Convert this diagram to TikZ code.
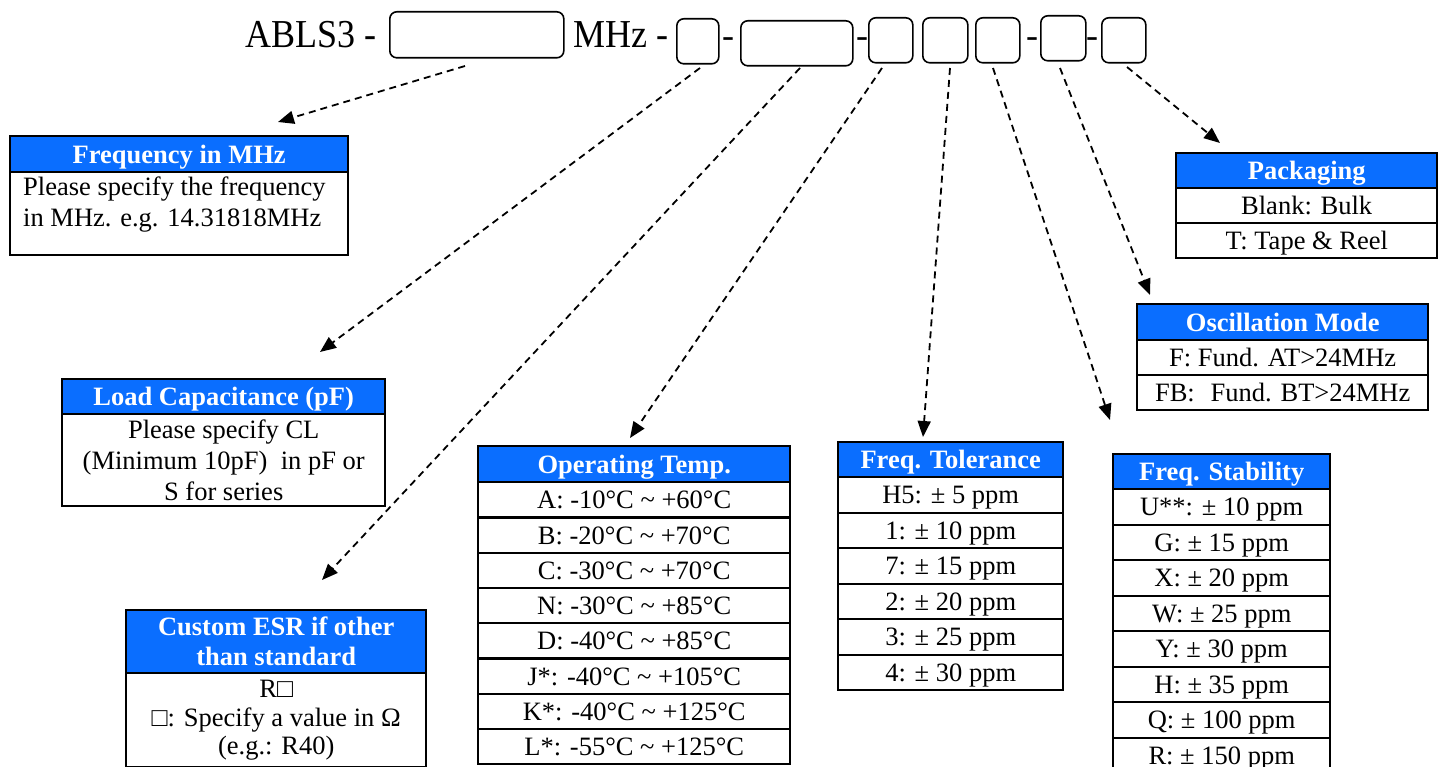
\documentclass[tikz,border=0pt]{standalone}
\usepackage{fontspec}
\setmainfont{Liberation Serif}
\usetikzlibrary{arrows.meta}
\definecolor{hblue}{RGB}{10,110,255}
\newcommand{\tld}{\textasciitilde}
\newcommand{\tallt}[1]{\scalebox{1}[1.1]{#1}}
\tikzset{
  bodyfont/.style={font=\fontsize{26.5}{31}\selectfont},
  hdr/.style={draw, line width=2.4pt, fill=hblue, text=white, font=\fontsize{26.5}{30}\selectfont\bfseries, anchor=north west, inner sep=0pt, align=center, text height=20pt, text depth=2pt},
  mhdr/.style={draw, line width=2.4pt, fill=hblue, text=white, font=\fontsize{26.5}{30}\selectfont\bfseries, anchor=north west, inner sep=0pt, align=center},
  cell/.style={draw, line width=2.4pt, anchor=north west, inner sep=0pt, align=center, text height=20pt, text depth=2pt, bodyfont},
  mcell/.style={draw, line width=2.4pt, anchor=north west, inner sep=0pt, align=center, bodyfont},
  tbox/.style={draw, line width=1.6pt, rounded corners=7pt, inner sep=0pt},
  title/.style={font=\fontsize{36}{40}\selectfont, inner sep=0pt, anchor=base west},
  conn/.style={dashed, dash pattern=on 7pt off 5pt, line width=1.8pt, -{Triangle[length=16pt,width=13pt]}}
}
\begin{document}
\begin{tikzpicture}[x=1pt,y=-1pt]
\useasboundingbox (0,0) rectangle (1438,767);
\fill[white] (0,0) rectangle (1438,767);

% ---- part number line ----
\node[title] (t1) at (245,48) {\tallt{ABLS3 -}};
\node[tbox, minimum width=174, minimum height=46, anchor=north west] (b1) at (389,11) {};
\node[title] (t2) at (573,48) {\tallt{MHz -}};
\node[tbox, minimum width=42, minimum height=45, anchor=north west] (b2) at (676,18) {};
\node[title, anchor=base] (d1) at (728,48) {-};
\node[tbox, minimum width=112, minimum height=45, anchor=north west] (b3) at (740,20) {};
\node[title, anchor=base] (d2) at (862,48) {-};
\node[tbox, minimum width=44, minimum height=45, anchor=north west] (b4) at (868,17) {};
\node[tbox, minimum width=45, minimum height=45, anchor=north west] (b5) at (922,17) {};
\node[tbox, minimum width=44, minimum height=45, anchor=north west] (b6) at (975,17) {};
\node[title, anchor=base] (d3) at (1032,48) {-};
\node[tbox, minimum width=45, minimum height=45, anchor=north west] (b7) at (1040,15) {};
\node[title, anchor=base] (d4) at (1092,48) {-};
\node[tbox, minimum width=44, minimum height=45, anchor=north west] (b8) at (1101,17) {};

% ---- Frequency in MHz ----
\node[hdr, minimum width=338, minimum height=36] (fq) at (9,135) {Frequency in MHz};
\node[mcell, minimum width=338, minimum height=83] (fqb) at (9,171) {};
\node[bodyfont, anchor=north west, align=left, inner sep=0pt, font=\fontsize{26.5}{31}\selectfont] (fqt) at (23,177) {Please specify the frequency\\in MHz. e.g. 14.31818MHz};

% ---- Load Capacitance ----
\node[hdr, minimum width=323, minimum height=35] (lc) at (61,378) {Load Capacitance (pF)};
\node[mcell, minimum width=323, minimum height=92] (lcb) at (61,413) {Please specify CL\\(Minimum 10pF)\ \ in pF or\\S for series};

% ---- Custom ESR ----
\node[mhdr, minimum width=300, minimum height=63] (esr) at (125,609) {Custom ESR if other\\than standard};
\node[mcell, minimum width=300, minimum height=94, font=\fontsize{26.5}{28.5}\selectfont] (esrb) at (125,672) {R□\\□: Specify a value in Ω\\(e.g.: R40)};

% ---- Operating Temp ----
\node[hdr, minimum width=312, minimum height=36] (ot) at (477,445) {Operating Temp.};
\foreach \t [count=\i] in {A: -10°C \tld{} +60°C, B: -20°C \tld{} +70°C, C: -30°C \tld{} +70°C, N: -30°C \tld{} +85°C, D: -40°C \tld{} +85°C, J*: -40°C \tld{} +105°C, K*: -40°C \tld{} +125°C, L*: -55°C \tld{} +125°C}
  \node[cell, minimum width=312, minimum height=35.25] (ot\i) at (477,{481+(\i-1)*35.25}) {\t};

% ---- Freq. Tolerance ----
\node[hdr, minimum width=225, minimum height=35] (ft) at (837,441) {Freq. Tolerance};
\foreach \t [count=\i] in {H5: ± 5 ppm, 1: ± 10 ppm, 7: ± 15 ppm, 2: ± 20 ppm, 3: ± 25 ppm, 4: ± 30 ppm}
  \node[cell, minimum width=225, minimum height=35.5] (ft\i) at (837,{476+(\i-1)*35.5}) {\t};

% ---- Freq. Stability ----
\node[hdr, minimum width=217, minimum height=35] (fs) at (1112,453) {Freq. Stability};
\foreach \t [count=\i] in {U**: ± 10 ppm, G: ± 15 ppm, X: ± 20 ppm, W: ± 25 ppm, Y: ± 30 ppm, H: ± 35 ppm, Q: ± 100 ppm, R: ± 150 ppm}
  \node[cell, minimum width=217, minimum height=35.5] (fs\i) at (1112,{488+(\i-1)*35.5}) {\t};

% ---- Oscillation Mode ----
\node[hdr, minimum width=291, minimum height=36] (om) at (1136,303) {Oscillation Mode};
\node[cell, minimum width=291, minimum height=35] (om1) at (1136,339) {F: Fund. AT>24MHz};
\node[cell, minimum width=291, minimum height=35] (om2) at (1136,374) {FB:\hspace{0.6em}Fund. BT>24MHz};

% ---- Packaging ----
\node[hdr, minimum width=261, minimum height=35] (pk) at (1175,152) {Packaging};
\node[cell, minimum width=261, minimum height=35] (pk1) at (1175,187) {Blank: Bulk};
\node[cell, minimum width=261, minimum height=35] (pk2) at (1175,222) {T: Tape \& Reel};

% ---- connectors ----
\coordinate (s1) at (465,66);  \coordinate (e1) at (278,122);
\coordinate (s2) at (700,68);  \coordinate (e2) at (320,352);
\coordinate (s3) at (800,68);  \coordinate (e3) at (322,580);
\coordinate (s4) at (882,68);  \coordinate (e4) at (630,438);
\coordinate (s5) at (950,68);  \coordinate (e5) at (923,437);
\coordinate (s6) at (993,68);  \coordinate (e6) at (1110,420);
\coordinate (s7) at (1060,68); \coordinate (e7) at (1150,295);
\coordinate (s8) at (1127,67); \coordinate (e8) at (1220,143);
\foreach \k in {1,...,8} \draw[conn] (s\k) -- (e\k);
\end{tikzpicture}
\end{document}
